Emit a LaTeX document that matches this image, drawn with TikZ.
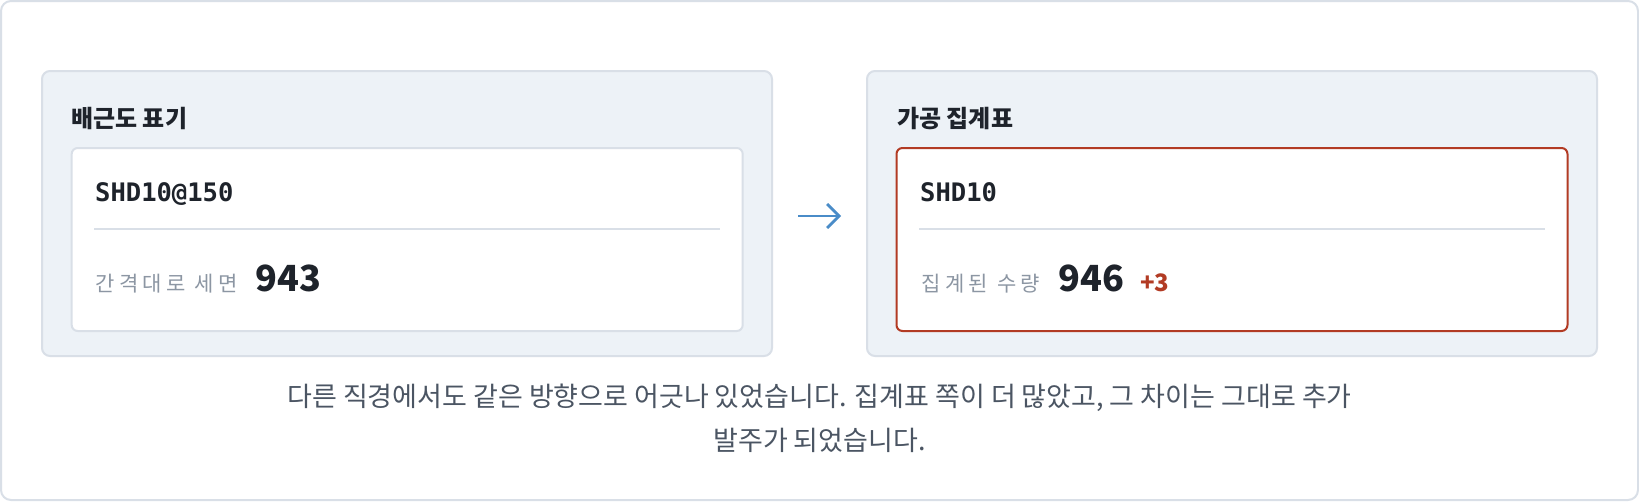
\documentclass[tikz,border=0pt]{standalone}
\usepackage{fontspec}
\setmainfont{Noto Sans CJK KR}
\newfontfamily\codefont{DejaVu Sans Mono}
\newfontfamily\labelfont{Noto Sans CJK KR}[LetterSpace=20]
\usetikzlibrary{arrows.meta}

\definecolor{framegray}{HTML}{D9DFE7}
\definecolor{panelfill}{HTML}{EDF2F7}
\definecolor{inkdark}{HTML}{1E232B}
\definecolor{labelgray}{HTML}{8C96A3}
\definecolor{bodygray}{HTML}{4B5563}
\definecolor{diffred}{HTML}{B23B24}
\definecolor{arrowblue}{HTML}{4A8CC8}

\tikzset{
  panel/.style={draw=framegray, line width=2pt, fill=panelfill, rounded corners=8pt,
    minimum width=730pt, minimum height=285pt, inner sep=0pt},
  card/.style={draw=framegray, line width=2pt, fill=white, rounded corners=6pt,
    minimum width=671pt, minimum height=183pt, inner sep=0pt},
  hotcard/.style={card, draw=diffred},
  rule/.style={draw=framegray, line width=1.5pt},
  title/.style={anchor=base west, inner sep=0pt, text=inkdark, font=\bfseries\fontsize{24}{28}\selectfont},
  code/.style={anchor=base west, inner sep=0pt, text=inkdark, font=\codefont\bfseries\fontsize{25.5}{30}\selectfont},
  qtylabel/.style={anchor=base west, inner sep=0pt, text=labelgray, font=\labelfont\fontsize{21}{25}\selectfont},
  qty/.style={anchor=base west, inner sep=0pt, text=inkdark, font=\bfseries\fontsize{36}{40}\selectfont},
  diff/.style={anchor=base west, inner sep=0pt, text=diffred, font=\bfseries\fontsize{24}{28}\selectfont},
  note/.style={anchor=base, inner sep=0pt, text=bodygray, font=\fontsize{27}{32}\selectfont},
  flow/.style={draw=arrowblue, line width=2.8pt, -{Straight Barb[length=12pt,width=24pt]},
    shorten <=25pt, shorten >=25pt}
}

\begin{document}
\begin{tikzpicture}[x=1pt,y=-1pt]
\useasboundingbox (0,0) rectangle (1639,501);
\draw [framegray, line width=2pt, rounded corners=10pt, fill=white] (1,1) rectangle (1638,500);

% left: drawing notation
\node [panel] (leftpanel) at (407,213.5) {};
\node [title] (lefttitle) at (71,127) {배근도 표기};
\node [card] (leftcard) at (407.2,239.5) {};
\node [code] (leftcode) at (95,201.5) {SHD10@150};
\draw [rule] (94,229) -- (720,229);
\node [qtylabel] (leftlabel) at (95.7,291) {간격대로 세면};
\node [qty] (leftqty) at (255.7,291) {943};

% right: cutting schedule
\node [panel] (rightpanel) at (1232,213.5) {};
\node [title] (righttitle) at (897,127) {가공 집계표};
\node [hotcard] (rightcard) at (1232,239.5) {};
\node [code] (rightcode) at (920,201.5) {SHD10};
\draw [rule] (919,229) -- (1545,229);
\node [qtylabel] (rightlabel) at (921.7,291) {집계된 수량};
\node [qty] (rightqty) at (1058,291) {946};
\node [diff] (rightdiff) at (1140,291) {+3};

\draw [flow] ([yshift=-2.5pt]leftpanel.east) -- ([yshift=-2.5pt]rightpanel.west);

\node [note] (noteone) at (819.5,406) {다른 직경에서도 같은 방향으로 어긋나 있었습니다. 집계표 쪽이 더 많았고, 그 차이는 그대로 추가};
\node [note] (notetwo) at (819.5,450) {발주가 되었습니다.};
\end{tikzpicture}
\end{document}
